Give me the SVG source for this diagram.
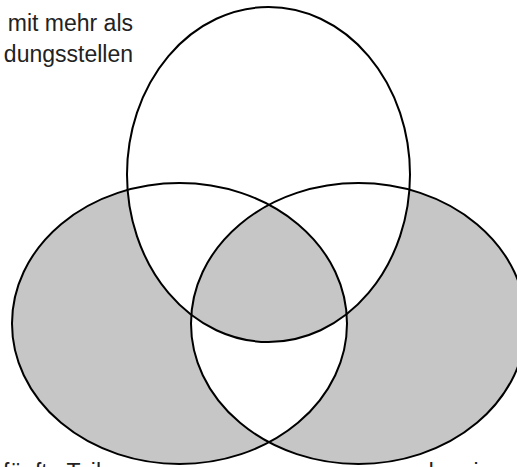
<svg xmlns="http://www.w3.org/2000/svg" width="517" height="467" viewBox="0 0 517 467">
<style>
.o{fill:none;stroke:#000;stroke-width:2}
.g{fill:#c6c6c6}
.t{font-family:"Liberation Sans",Arial,sans-serif;font-size:23px;fill:#222}
</style>
<defs>
<ellipse id="eL" cx="179.5" cy="323.5" rx="167.5" ry="140.5"/>
<ellipse id="eR" cx="358.5" cy="323.5" rx="167.5" ry="140.5"/>
<ellipse id="eT" cx="268.5" cy="174.5" rx="141.5" ry="167.5"/>
<clipPath id="cL"><use href="#eL"/></clipPath>
<clipPath id="cR"><use href="#eR"/></clipPath>
<mask id="mL"><rect width="517" height="467" fill="#fff"/><use href="#eT" fill="#000"/><use href="#eR" fill="#000"/></mask>
<mask id="mR"><rect width="517" height="467" fill="#fff"/><use href="#eT" fill="#000"/><use href="#eL" fill="#000"/></mask>
</defs>
<rect width="517" height="467" fill="#fff"/>
<g id="fills">
<use href="#eL" class="g" mask="url(#mL)"/>
<use href="#eR" class="g" mask="url(#mR)"/>
<g clip-path="url(#cL)"><use href="#eT" class="g" clip-path="url(#cR)"/></g>
</g>
<g id="left"><use href="#eL" class="o"/></g>
<g id="right"><use href="#eR" class="o"/></g>
<g id="top"><use href="#eT" class="o"/></g>
<g id="labels">
<text class="t" x="133" y="31" text-anchor="end">mit mehr als</text>
<text class="t" x="133" y="62" text-anchor="end">dungsstellen</text>
<text class="t" x="3" y="480">fünfte Teil</text>
<text class="t" x="421" y="480">der ein</text>
</g>
</svg>
